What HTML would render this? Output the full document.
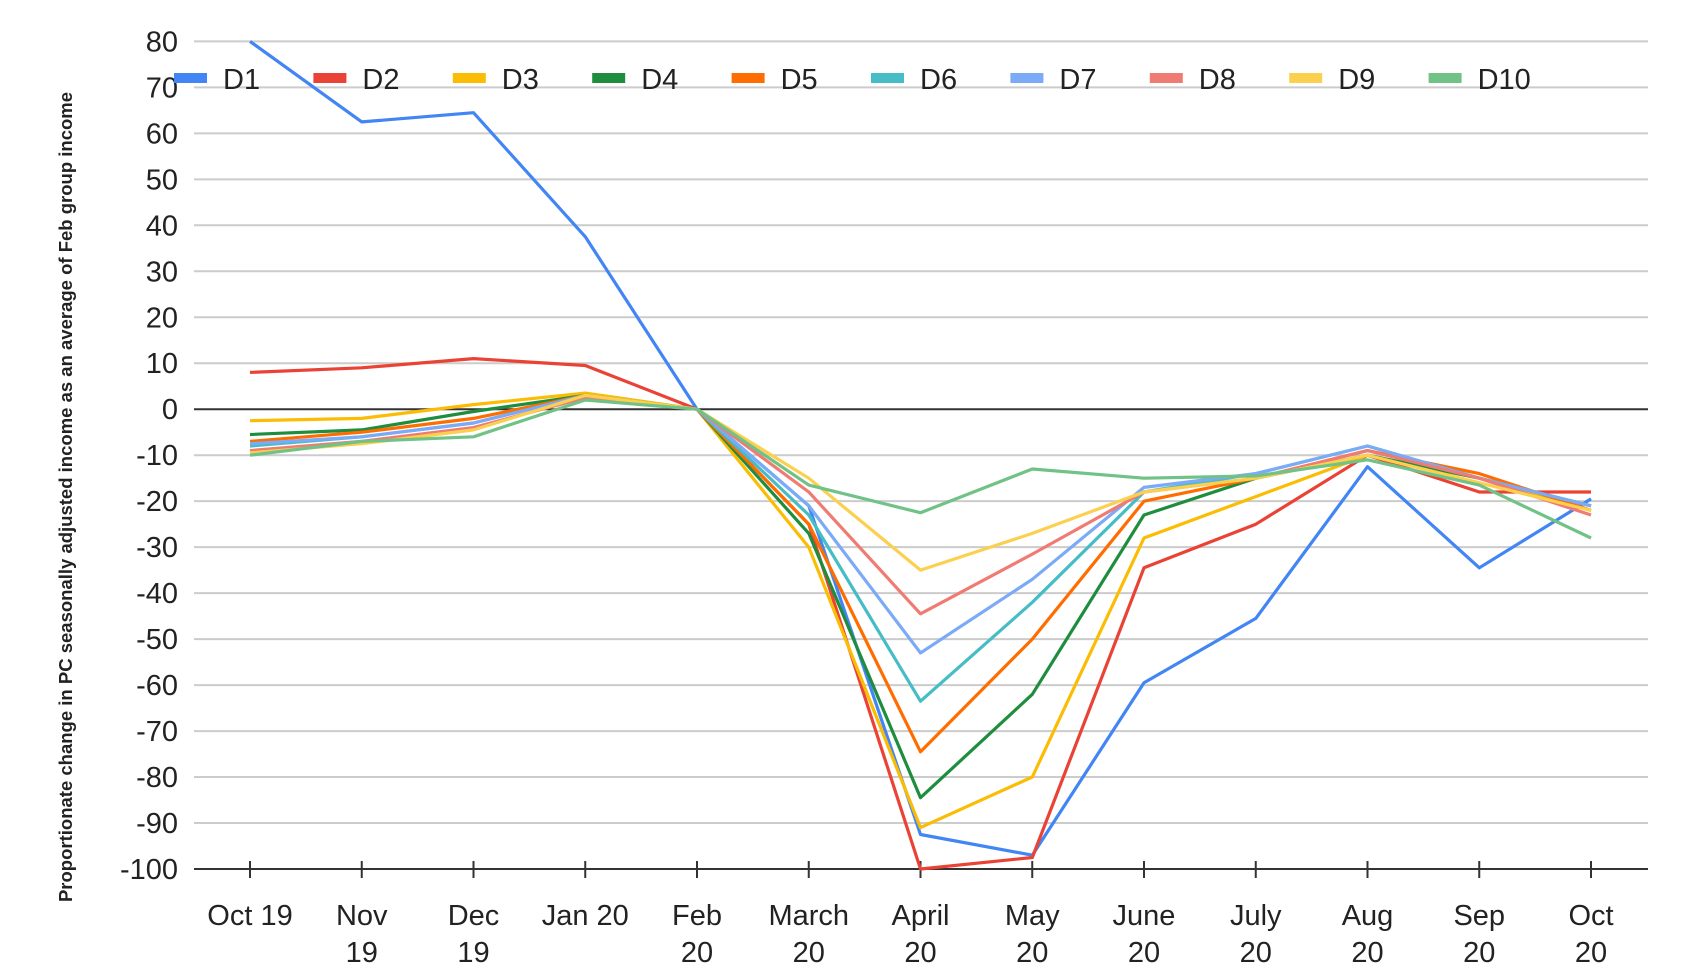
<!DOCTYPE html>
<html><head><meta charset="utf-8"><style>
html,body{margin:0;padding:0;background:#fff;}
svg{display:block;}
text{font-family:"Liberation Sans Narrow","Liberation Sans",sans-serif;fill:#222;}
</style></head><body>
<svg id="chart" width="1699" height="980" viewBox="0 0 1699 980" xmlns="http://www.w3.org/2000/svg">
<g id="grid"></g>
<g id="yticks"></g>
<g id="xticks"></g>
<g id="series"></g>
<g id="legend"></g>
<text transform="translate(72,497) rotate(-90)" text-anchor="middle" font-size="18.5" font-weight="bold">Proportionate change in PC seasonally adjusted income as an average of Feb group income</text>
</svg>
<script>
const categories=[["Oct 19"],["Nov","19"],["Dec","19"],["Jan 20"],["Feb","20"],["March","20"],["April","20"],["May","20"],["June","20"],["July","20"],["Aug","20"],["Sep","20"],["Oct","20"]];
const yTicks=[80,70,60,50,40,30,20,10,0,-10,-20,-30,-40,-50,-60,-70,-80,-90,-100];
const seriesNames=["D1","D2","D3","D4","D5","D6","D7","D8","D9","D10"];
const seriesColors=["#4285F4","#EA4335","#FBBC04","#1E8E3E","#FF6D01","#46BDC6","#7BAAF7","#F07B72","#FCD04F","#71C287"];
const d1=[80,62.5,64.5,37.5,0,-21,-92.5,-97,-59.5,-45.5,-12.5,-34.5,-19.5];
const d2=[8,9,11,9.5,0,-25,-100,-97.5,-34.5,-25,-10,-18,-18];
const d3=[-2.5,-2,1,3.5,0,-30,-91,-80,-28,-19,-10,-15,-22];
const d4=[-5.5,-4.5,-0.5,3,0,-27,-84.5,-62,-23,-15,-10,-15,-21];
const d5=[-7,-5,-2,3,0,-25,-74.5,-50,-20,-15,-9,-14,-22];
const d6=[-8,-6,-3,3,0,-23,-63.5,-42,-18,-14,-8,-15,-21];
const d7=[-7.5,-6,-3,3,0,-21,-53,-37,-17,-14,-8,-15,-21];
const d8=[-9,-7,-4,2.5,0,-18,-44.5,-31.5,-18,-15,-9,-15,-23];
const d9=[-9.5,-7.5,-4.5,3,0,-15,-35,-27,-18,-15,-10,-16,-22];
const d10=[-10,-7,-6,2,0,-16.5,-22.5,-13,-15,-14.5,-11,-16.5,-28];
const seriesValues=[d1,d2,d3,d4,d5,d6,d7,d8,d9,d10];

const NS="http://www.w3.org/2000/svg";
const plotL=194,plotR=1648,yTop=41.4,yBot=869,x0=250,x1=1591;
function xScale(i){return x0+(x1-x0)*i/(categories.length-1);}
function yScale(v){return yTop+(80-v)*(yBot-yTop)/180;}
function mk(tag,attrs,parent){const e=document.createElementNS(NS,tag);for(const k in attrs)e.setAttribute(k,attrs[k]);parent.appendChild(e);return e;}

const grid=document.getElementById('grid'),yt=document.getElementById('yticks'),xt=document.getElementById('xticks');
yTicks.forEach(v=>{
  const y=yScale(v);
  const l=mk('line',{x1:plotL,x2:plotR,y1:y,y2:y,stroke:(v===0||v===-100)?'#333':'#ccc','stroke-width':2},grid);
  
  
  const t=mk('text',{x:178,y:y+10,'text-anchor':'end','font-size':29},yt);
  t.textContent=v;
  
  
});
categories.forEach((c,i)=>{
  const x=xScale(i);
  const tk=mk('line',{x1:x,x2:x,y1:yBot-8,y2:yBot+9,stroke:'#333','stroke-width':2},xt);
  
  
  c.forEach((s,j)=>{
    const t=mk('text',{x:x,y:925+j*37,'text-anchor':'middle','font-size':29},xt);
    t.textContent=s;
    
    
  });
});
const sg=document.getElementById('series');
seriesValues.forEach((vals,k)=>{
  const pts=vals.map((v,i)=>xScale(i).toFixed(1)+','+yScale(v).toFixed(1)).join(' ');
  const p=mk('polyline',{points:pts,fill:'none',stroke:seriesColors[k],'stroke-width':3.2,'stroke-linejoin':'round'},sg);
  
  
});
const lg=document.getElementById('legend');
seriesNames.forEach((n,k)=>{
  const x=174+k*139.4;
  const g=mk('g',{},lg);
  
  
  mk('rect',{x:x,y:73,width:33,height:10,fill:seriesColors[k]},g);
  const t=mk('text',{x:x+49,y:89,'font-size':29},g);
  t.textContent=n;
});
</script>
</body></html>
